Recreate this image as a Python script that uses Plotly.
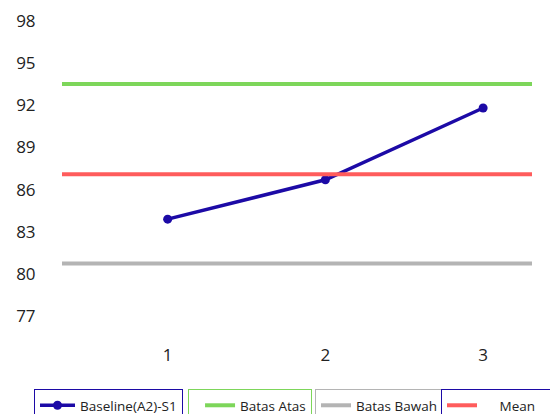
import plotly.graph_objects as go

# ---- data ----
sessions = [1, 2, 3]
baseline_values = [83.9, 86.7, 91.8]
batas_atas = 93.5
batas_bawah = 80.75
mean_value = 87.1
y_ticks = [77, 80, 83, 86, 89, 92, 95, 98]
x_tick_labels = ["1", "2", "3"]

series_names = ["Baseline(A2)-S1", "Batas Atas", "Batas Bawah", "Mean"]

# ---- styling ----
BLUE = "#1c0aa6"
GREEN = "#7dd65a"
GRAY = "#b4b4b4"
RED = "#ff5c5c"
FONT = "Open Sans"
TXT = "#222222"
NB = "\u00a0"

x_range = [0.33, 3.31]
y_range = [75.6, 99.4]

fig = go.Figure()

fig.add_trace(go.Scatter(
    x=x_range, y=[batas_atas, batas_atas], mode="lines",
    line=dict(color=GREEN, width=4), name=series_names[1],
    legend="legend2"))
fig.add_trace(go.Scatter(
    x=x_range, y=[batas_bawah, batas_bawah], mode="lines",
    line=dict(color=GRAY, width=4), name=series_names[2], legend="legend3"))
fig.add_trace(go.Scatter(
    x=sessions, y=baseline_values, mode="lines+markers",
    line=dict(color=BLUE, width=3.5), marker=dict(color=BLUE, size=9),
    name=series_names[0], legend="legend"))
fig.add_trace(go.Scatter(
    x=x_range, y=[mean_value, mean_value], mode="lines",
    line=dict(color=RED, width=4),
    name=NB * 5 + series_names[3] + NB * 3, legend="legend4"))

W, H = 550, 414
legend_top = 1 - 389 / H

def leg(xpix, color, **kw):
    d = dict(xref="container", yref="container", x=xpix / W, y=legend_top,
             xanchor="left", yanchor="top", borderwidth=1, bordercolor=color,
             bgcolor="white", font=dict(family=FONT, size=13.5, color=TXT),
             orientation="h")
    d.update(kw)
    return d

fig.update_layout(
    width=W, height=H, autosize=False,
    margin=dict(l=62, r=18, t=1, b=78),
    paper_bgcolor="white", plot_bgcolor="white",
    font=dict(family=FONT, color=TXT),
    showlegend=True,
    legend=leg(34, BLUE, itemwidth=35),
    legend2=leg(188, GREEN,
                title=dict(text=NB, side="left",
                           font=dict(family=FONT, size=4))),
    legend3=leg(315, GRAY),
    legend4=leg(441, BLUE),
    xaxis=dict(range=x_range, tickvals=sessions, ticktext=x_tick_labels,
               showgrid=False, zeroline=False, showline=False,
               ticks="outside", ticklen=4, tickcolor="rgba(0,0,0,0)",
               tickfont=dict(family=FONT, size=17, color=TXT)),
    yaxis=dict(range=y_range, tickvals=y_ticks,
               showgrid=False, zeroline=False, showline=False,
               ticks="outside", ticklen=22, tickcolor="rgba(0,0,0,0)",
               tickfont=dict(family=FONT, size=17, color=TXT)),
)

fig.write_html("out.html")
